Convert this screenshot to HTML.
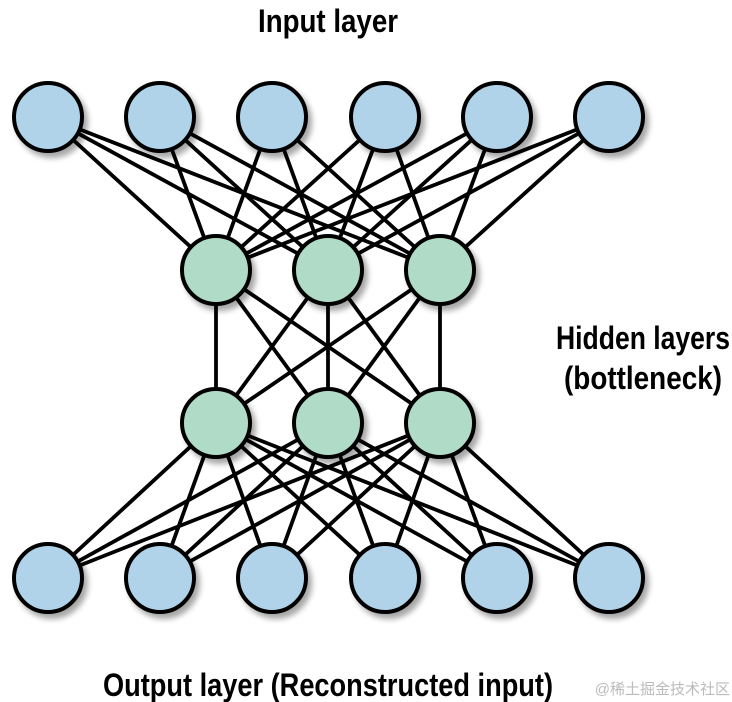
<!DOCTYPE html>
<html><head><meta charset="utf-8"><style>
html,body{margin:0;padding:0;background:#fff;width:732px;height:702px;overflow:hidden}
</style></head><body>
<svg width="732" height="702" viewBox="0 0 732 702" xmlns="http://www.w3.org/2000/svg">
<defs><filter id="sh" x="-30%" y="-30%" width="170%" height="170%"><feGaussianBlur in="SourceAlpha" stdDeviation="3"/><feOffset dx="4" dy="5"/><feComponentTransfer><feFuncA type="linear" slope="0.35"/></feComponentTransfer><feMerge><feMergeNode/><feMergeNode in="SourceGraphic"/></feMerge></filter></defs>
<g stroke="#000" stroke-width="3.8">
<g id="l1"></g>
</g>
<script>
var ns="http://www.w3.org/2000/svg";
var xs6=[48,160,272,385,497,609], xs3=[216,328,440];
var yIn=117,yH1=270,yH2=423,yOut=578;
var g=document.getElementById('l1');
function L(a,b,c,d){var l=document.createElementNS(ns,'line');l.setAttribute('x1',a);l.setAttribute('y1',b);l.setAttribute('x2',c);l.setAttribute('y2',d);g.appendChild(l);}
xs6.forEach(function(x){xs3.forEach(function(h){L(x,yIn,h,yH1);L(x,yOut,h,yH2);});});
xs3.forEach(function(a){xs3.forEach(function(b){L(a,yH1,b,yH2);});});
var svg=g.ownerSVGElement;
function C(x,y,f){var c=document.createElementNS(ns,'ellipse');c.setAttribute('cx',x);c.setAttribute('cy',y);c.setAttribute('rx',34);c.setAttribute('ry',34);c.setAttribute('fill',f);c.setAttribute('stroke','#000');c.setAttribute('stroke-width','4');c.setAttribute('filter','url(#sh)');svg.appendChild(c);}
xs6.forEach(function(x){C(x,yIn,'#b0d3ea');C(x,yOut,'#b0d3ea');});
xs3.forEach(function(x){C(x,yH1,'#b0dcc7');C(x,yH2,'#b0dcc7');});
</script>
<g font-family="Liberation Sans, sans-serif" font-weight="bold" font-size="32" fill="#000">
<text x="328" y="32" text-anchor="middle" textLength="140" lengthAdjust="spacingAndGlyphs">Input layer</text>
<text x="643" y="349" text-anchor="middle" textLength="174" lengthAdjust="spacingAndGlyphs">Hidden layers</text>
<text x="643" y="389" text-anchor="middle" textLength="158" lengthAdjust="spacingAndGlyphs">(bottleneck)</text>
<text x="328" y="696" text-anchor="middle" textLength="450" lengthAdjust="spacingAndGlyphs">Output layer (Reconstructed input)</text>
</g>
<text x="730" y="694" text-anchor="end" font-family="Liberation Sans, Noto Sans CJK SC, sans-serif" font-size="15" fill="#bbb">@稀土掘金技术社区</text>
</svg>
</body></html>
